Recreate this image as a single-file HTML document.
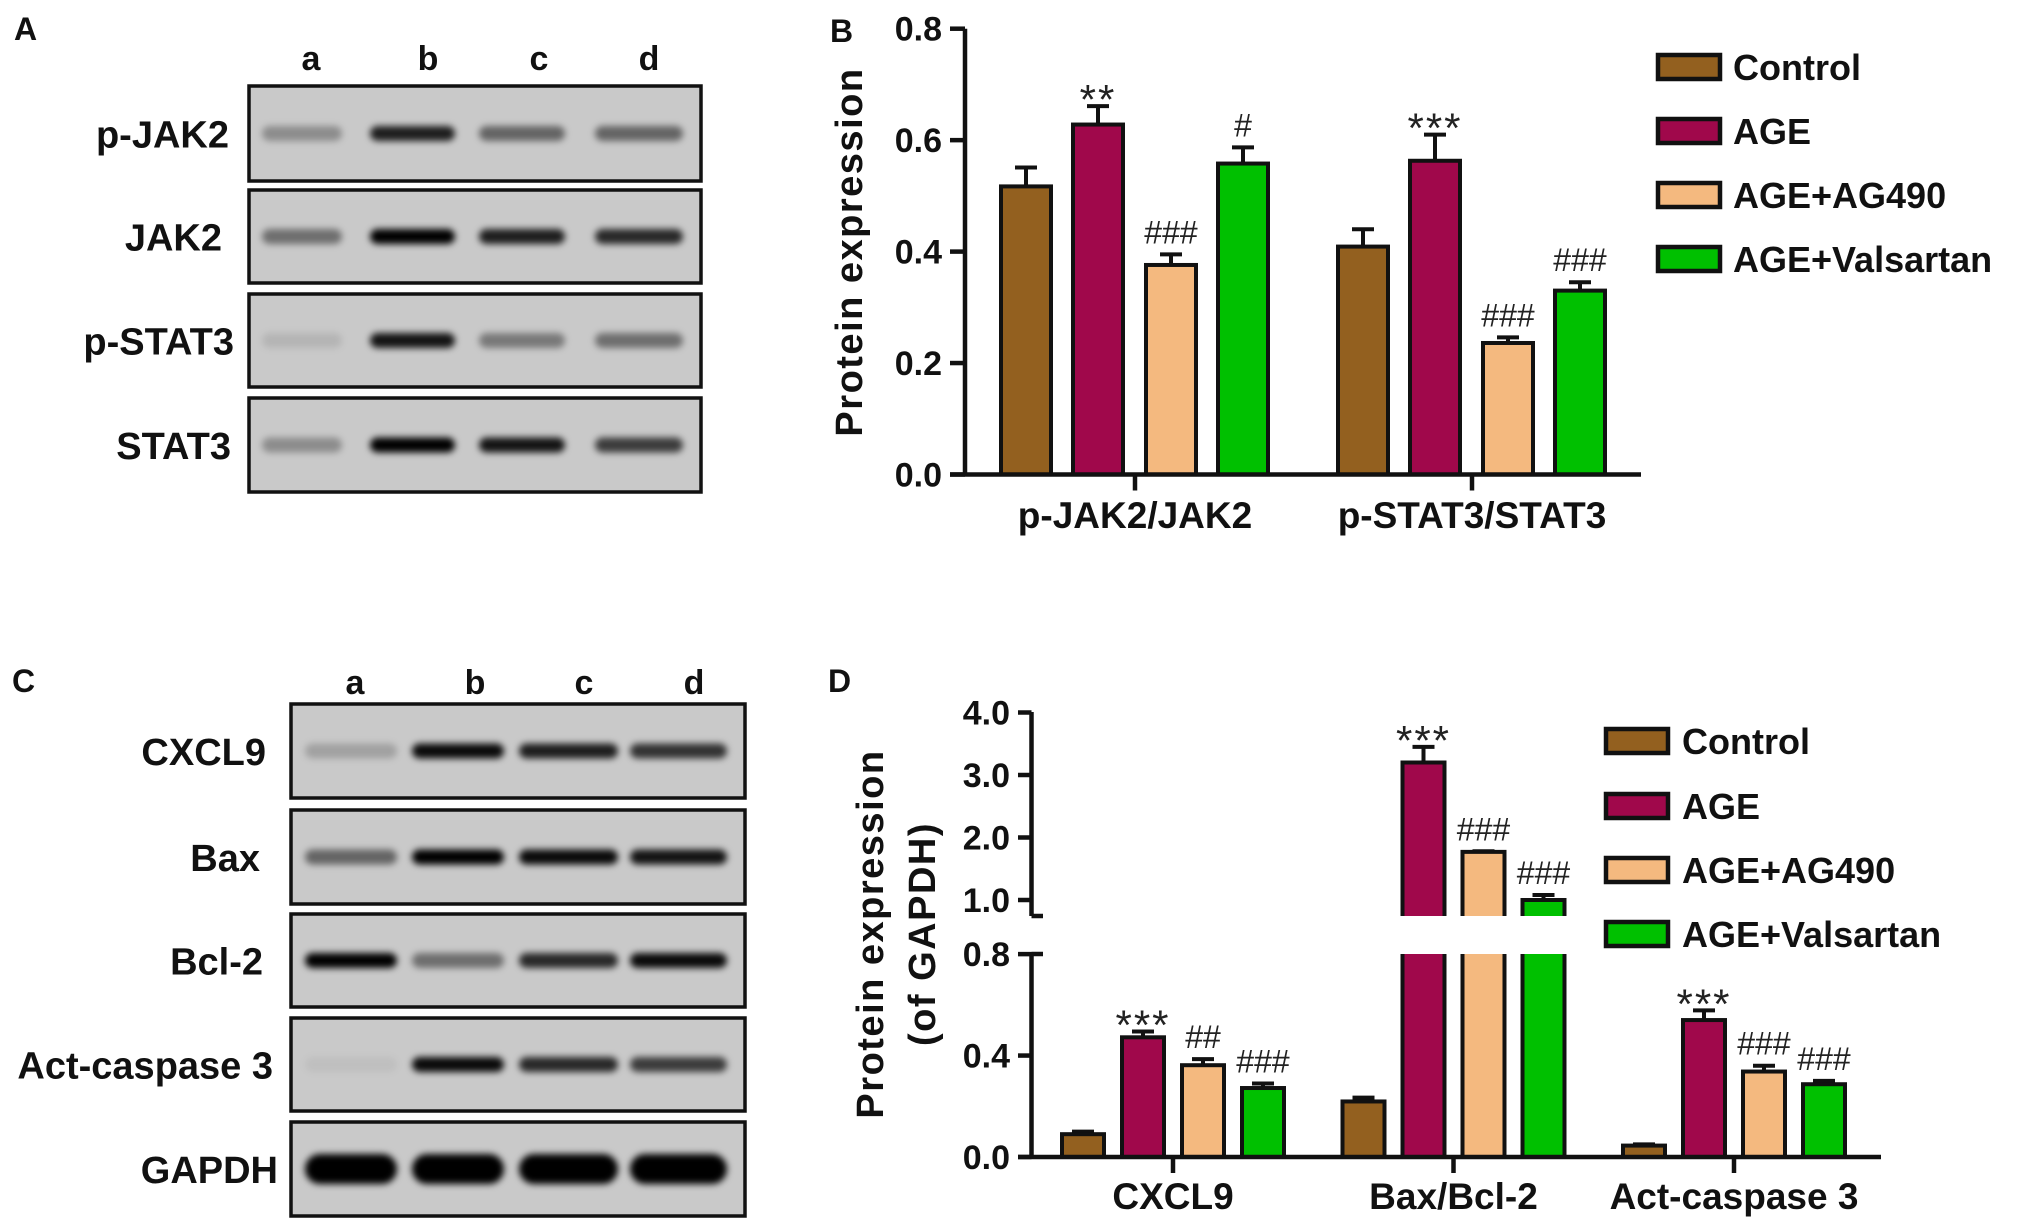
<!DOCTYPE html>
<html><head><meta charset="utf-8"><style>
html,body{margin:0;padding:0;background:#fff;}
svg{display:block;font-family:"Liberation Sans",Arial,sans-serif;}
</style></head><body>
<svg id="fig" width="2031" height="1231" viewBox="0 0 2031 1231" xmlns="http://www.w3.org/2000/svg">
<defs>
<filter id="blur" x="-20%" y="-100%" width="140%" height="300%"><feGaussianBlur stdDeviation="3.5"/></filter>
</defs>
<g id="panelA"></g>
<g id="panelC"></g>
<g id="panelB"></g>
<g id="panelD"></g>
</svg>
<script>
// ---------- data ----------
const seriesNames = ["Control","AGE","AGE+AG490","AGE+Valsartan"];
const seriesColors = ["#93601f","#a0084b","#f4b97f","#00c000"];

const bCategories = ["p-JAK2/JAK2","p-STAT3/STAT3"];
const bControl = [0.517, 0.409];
const bAGE = [0.628, 0.563];
const bAG490 = [0.376, 0.236];
const bValsartan = [0.558, 0.330];
const bControlErr = [0.551, 0.440];
const bAGEErr = [0.661, 0.610];
const bAG490Err = [0.395, 0.246];
const bValsartanErr = [0.587, 0.345];
const bAnnotAGE = ["**","***"];
const bAnnotAG490 = ["###","###"];
const bAnnotVal = ["#","###"];
const bTicks = [0.0,0.2,0.4,0.6,0.8];
const bTickLabels = ["0.0","0.2","0.4","0.6","0.8"];

const dCategories = ["CXCL9","Bax/Bcl-2","Act-caspase 3"];
const dControl = [0.09, 0.219, 0.045];
const dAGE = [0.472, 3.20, 0.54];
const dAG490 = [0.362, 1.77, 0.337];
const dValsartan = [0.272, 1.00, 0.287];
const dControlErr = [0.10, 0.234, 0.05];
const dAGEErr = [0.495, 3.45, 0.578];
const dAG490Err = [0.386, 1.78, 0.36];
const dValsartanErr = [0.29, 1.08, 0.30];
const dAnnotAGE = ["***","***","***"];
const dAnnotAG490 = ["##","###","###"];
const dAnnotVal = ["###","###","###"];
const dTicksLow = [0.0,0.4,0.8];
const dTickLabelsLow = ["0.0","0.4","0.8"];
const dTicksHigh = [1.0,2.0,3.0,4.0];
const dTickLabelsHigh = ["1.0","2.0","3.0","4.0"];

const laneLabels = ["a","b","c","d"];
const aRows = ["p-JAK2","JAK2","p-STAT3","STAT3"];
const aIntensity = [[0.3,0.85,0.5,0.5],[0.45,1,0.85,0.8],[0.1,0.9,0.4,0.45],[0.3,1,0.9,0.7]];
const cRows = ["CXCL9","Bax","Bcl-2","Act-caspase 3","GAPDH"];
const cIntensity = [[0.2,0.95,0.85,0.75],[0.5,1,0.95,0.9],[1,0.45,0.8,0.95],[0.05,0.95,0.8,0.7],[1,1,1,1]];

// ---------- helpers ----------
const NS="http://www.w3.org/2000/svg";
function mk(parent, tag, attrs, text){
  const e=document.createElementNS(NS,tag);
  for(const k in attrs) e.setAttribute(k,attrs[k]);
  if(text!==undefined) e.textContent=text;
  parent.appendChild(e); return e;
}
function txt(parent,x,y,s,size,anchor,bold,name){
  const t=mk(parent,"text",{x:x,y:y,"font-size":size,"text-anchor":anchor||"start","font-weight":bold?"bold":"normal",fill:"#111"},s);
  
  
  return t;
}

// ---------- blots ----------
function blot(g, letter, letterPos, lanesX, laneY, boxX0, boxX1, rows, rowsY, bandLanes, intens, labelRight, bandH){
  txt(g, letterPos[0], letterPos[1], letter, 32, "start", true, "panel-label-"+letter.toLowerCase());
  laneLabels.forEach((l,i)=>{ txt(g, lanesX[i], laneY, l, 34, "middle", true, "lane-label-"+l); });
  rows.forEach((r,ri)=>{
    const [y0,y1]=rowsY[ri];
    const rg=mk(g,"g",{});
    
    
    mk(rg,"rect",{x:boxX0,y:y0,width:boxX1-boxX0,height:y1-y0,fill:"#c9c9c9",stroke:"#111","stroke-width":3.5});
    const cy=(y0+y1)/2;
    const h = (r==="GAPDH")?bandH*2:bandH;
    intens[ri].forEach((v,li)=>{
      const [bx0,bx1]=bandLanes[li];
      const band=mk(rg,"rect",{x:bx0,y:cy-h/2,width:bx1-bx0,height:h,rx:h/2,fill:"#000","fill-opacity":v,filter:"url(#blur)"});
      
      
    });
    txt(g, labelRight[ri], cy+14, r, 38, "end", true, "row-label");
  });
}
blot(document.getElementById("panelA"),"A",[14,40],[311,428,539,649],70,249,701,aRows,
  [[86,181],[190,283],[294,387],[398,492]],
  [[262,342],[370,455],[479,565],[595,683]],aIntensity,[229,222,234,231],15);
blot(document.getElementById("panelC"),"C",[12,692],[355,475,584,694],694,291,745,cRows,
  [[704,798],[810,904],[914,1007],[1018,1111],[1122,1216]],
  [[305,397],[412,504],[519,618],[630,727]],cIntensity,[266,260,263,273,278],15);

// ---------- bar chart helpers ----------
function bars(g, cats, series, errs, annots, xc, offsets, bw, yf){
  cats.forEach((c,ci)=>{
    series.forEach((vals,si)=>{
      const cx=xc(ci)+offsets[si];
      const v=vals[ci], e=errs[si][ci];
      const yt=yf(v), ye=yf(e);
      const eb=mk(g,"path",{d:`M${cx} ${yt} V${ye} M${cx-11} ${ye} H${cx+11}`,stroke:"#111","stroke-width":4,fill:"none"});
      
      
      const r=mk(g,"rect",{x:cx-bw/2,y:yt,width:bw,height:yf(0)-yt,fill:seriesColors[si],stroke:"#111","stroke-width":4});
      
      
      const a=annots[si];
      if(a && a[ci]){
        const star=a[ci].indexOf("*")>=0;
        const t=txt(g,cx,star?ye+8:ye-11,a[ci],star?42:32,"middle",false,"significance-mark");
        t.setAttribute("fill","#222");
        t.setAttribute("letter-spacing",star?"2":"0");
      }
    });
  });
}
function legend(g,x,ys,tx){
  seriesNames.forEach((n,i)=>{
    const lg=mk(g,"g",{});
    
    
    mk(lg,"rect",{x:x,y:ys[i]-12,width:62,height:24,fill:seriesColors[i],stroke:"#111","stroke-width":4.5});
    txt(lg,tx,ys[i]+13,n,36,"start",true,"legend-label");
  });
}

// ---------- Panel B ----------
(function(){
  const g=document.getElementById("panelB");
  txt(g,830,42,"B",32,"start",true,"panel-label-b");
  const y0=474.5, pxu=557.25;
  const yf=v=>y0-v*pxu;
  const xc=i=>1135+i*337;
  bars(g,bCategories,[bControl,bAGE,bAG490,bValsartan],[bControlErr,bAGEErr,bAG490Err,bValsartanErr],
    [null,bAnnotAGE,bAnnotAG490,bAnnotVal],xc,[-109,-37,36,108],50,yf);
  const ax=mk(g,"path",{d:`M965 ${yf(0.8)} V${y0} M950 ${y0} H1641`,stroke:"#111","stroke-width":4.5,fill:"none"});
  
  
  bTicks.forEach((t,i)=>{
    mk(g,"path",{d:`M950 ${yf(t)} H965`,stroke:"#111","stroke-width":4.5});
    txt(g,942,yf(t)+12,bTickLabels[i],34,"end",true,"y-tick-label");
  });
  bCategories.forEach((c,i)=>{
    mk(g,"path",{d:`M${xc(i)} ${y0} V${y0+16}`,stroke:"#111","stroke-width":4.5});
    txt(g,xc(i),528,c,37,"middle",true,"x-category-label");
  });
  const yt=txt(g,0,0,"Protein expression",38,"middle",true,"y-axis-title");
  yt.setAttribute("transform","translate(862,252) rotate(-90)");
  yt.setAttribute("letter-spacing","1.5");
  legend(g,1658,[67,131,195,259],1733);
})();

// ---------- Panel D ----------
(function(){
  const g=document.getElementById("panelD");
  txt(g,828,692,"D",32,"start",true,"panel-label-d");
  const y0=1157, pxl=253.6, yOne=900, pxh=62.5;
  const yf=v=> v<=0.8 ? y0-v*pxl : (v<1 ? 955-(v-0.8)/0.2*40 : yOne-(v-1)*pxh);
  const xc=i=>1173+i*280.5;
  bars(g,dCategories,[dControl,dAGE,dAG490,dValsartan],[dControlErr,dAGEErr,dAG490Err,dValsartanErr],
    [null,dAnnotAGE,dAnnotAG490,dAnnotVal],xc,[-90,-30,30,90],42,yf);
  const gap=mk(g,"rect",{x:1036,y:916,width:620,height:38,fill:"#fff"});
  
  
  const ax=mk(g,"path",{d:`M1031.5 712 V916 M1031.5 954 V${y0} M1018 ${y0} H1881 M1031.5 916 H1043 M1031.5 954 H1043`,stroke:"#111","stroke-width":4.5,fill:"none"});
  
  
  dTicksLow.forEach((t,i)=>{
    mk(g,"path",{d:`M1018 ${yf(t)} H1031.5`,stroke:"#111","stroke-width":4.5});
    txt(g,1010,yf(t)+12,dTickLabelsLow[i],34,"end",true,"y-tick-label");
  });
  dTicksHigh.forEach((t,i)=>{
    mk(g,"path",{d:`M1018 ${yf(t)} H1031.5`,stroke:"#111","stroke-width":4.5});
    txt(g,1010,yf(t)+12,dTickLabelsHigh[i],34,"end",true,"y-tick-label");
  });
  dCategories.forEach((c,i)=>{
    mk(g,"path",{d:`M${xc(i)} ${y0} V${y0+16}`,stroke:"#111","stroke-width":4.5});
    txt(g,xc(i),1209,c,37,"middle",true,"x-category-label");
  });
  const yt=txt(g,0,0,"Protein expression",38,"middle",true,"y-axis-title");
  yt.setAttribute("transform","translate(883,934) rotate(-90)");
  yt.setAttribute("letter-spacing","1.5");
  const yt2=txt(g,0,0,"(of GAPDH)",38,"middle",true,"y-axis-subtitle");
  yt2.setAttribute("transform","translate(935,934) rotate(-90)");
  yt2.setAttribute("letter-spacing","1.5");
  legend(g,1606,[741,806,870,934],1682);
})();
</script>
</body></html>
